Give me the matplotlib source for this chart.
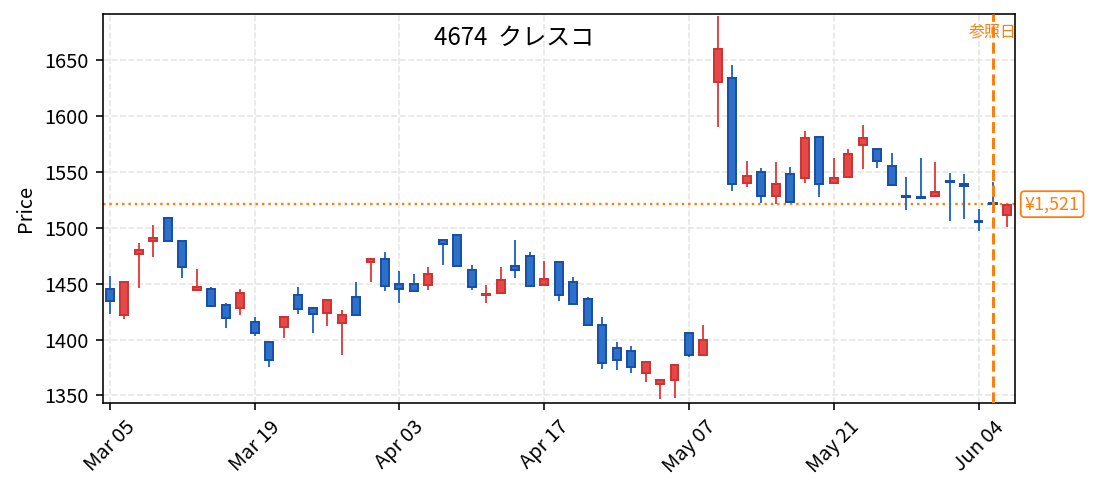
import matplotlib
matplotlib.use("Agg")
import matplotlib.pyplot as plt
import numpy as np

plt.rcParams['font.family'] = ['Noto Sans CJK JP', 'DejaVu Sans']

dates = ["03-05","03-06","03-09","03-10","03-11","03-12","03-13","03-16","03-17","03-18",
         "03-19","03-23","03-24","03-25","03-26","03-27","03-30","03-31",
         "04-01","04-02","04-03","04-06","04-07","04-08","04-09","04-10","04-13","04-14",
         "04-15","04-16","04-17","04-20","04-21","04-22","04-23","04-24","04-27","04-28","04-30",
         "05-01","05-07","05-08","05-11","05-12","05-13","05-14","05-15","05-18","05-19",
         "05-20","05-21","05-22","05-25","05-26","05-27","05-28","05-29",
         "06-01","06-02","06-03","06-04","06-05","06-08"]

opens = [1445,1422,1476,1488,1509,1488,1444,1445,1431,1428,
         1416,1398,1411,1440,1428,1424,1415,1438,1469,1472,
         1450,1450,1449,1489,1493,1462,1440,1442,1466,1475,
         1449,1469,1451,1436,1413,1392,1390,1370,1360,1364,
         1406,1386,1630,1634,1540,1550,1528,1548,1544,1581,
         1540,1545,1574,1570,1555,1528.5,1527.5,1528,1542,1539,
         1506,1522,1511]
highs = [1457,1452,1486,1502,1509,1488,1463,1447,1433,1445,
         1420,1398,1420,1447,1428,1435,1426,1451,1472,1478,
         1461,1459,1465,1489,1493,1467,1449,1465,1489,1478,
         1470,1469,1456,1438,1420,1398,1394,1380,1364,1378,
         1406,1413,1689,1645,1560,1553,1559,1554,1586,1581,
         1562,1570,1592,1570,1567,1545,1562,1559,1549,1548,
         1517,1541,1520]
lows = [1423,1418,1446,1474,1488,1455,1443,1429,1410,1422,
        1403,1375,1401,1423,1406,1412,1386,1422,1451,1443,
        1433,1443,1444,1467,1465,1444,1433,1442,1455,1448,
        1449,1434,1432,1413,1374,1373,1370,1362,1347,1348,
        1384,1386,1590,1533,1536,1522,1521,1523,1540,1527,
        1539,1545,1552,1553,1538,1516,1526,1528,1506,1508,
        1497,1513,1501]
closes = [1434,1451,1480,1491,1488,1465,1447,1430,1419,1442,
          1406,1382,1420,1427,1423,1435,1422,1422,1472,1448,
          1445,1443,1459,1485,1466,1447,1441,1453,1462,1448,
          1454,1440,1432,1413,1379,1382,1375,1380,1364,1377,
          1386,1400,1660,1539,1546,1528,1539,1523,1580,1539,
          1544,1566,1580,1560,1538,1527.5,1526.5,1532,1541,1537,
          1505,1521,1520]

tick_idx = [0, 10, 20, 30, 40, 50, 60]
tick_labels = ["Mar 05", "Mar 19", "Apr 03", "Apr 17", "May 07", "May 21", "Jun 04"]
yticks = [1350, 1400, 1450, 1500, 1550, 1600, 1650]

ref_idx = 61
ref_price = 1521
title = "4674  クレスコ"
ref_label = "参照日"
price_label = "¥1,521"

UP_FACE, UP_EDGE = "#E64848", "#CF3434"
DN_FACE, DN_EDGE = "#2C70C9", "#1A50A6"
ORANGE = "#FF7F0E"

dpi = 144
fig = plt.figure(figsize=(1093 / dpi, 491 / dpi), dpi=dpi)
ax = fig.add_axes([102.7 / 1093, 1 - 402.7 / 491, (1014.7 - 102.7) / 1093, (402.7 - 14) / 491])

x = np.arange(len(opens))
o = np.array(opens, float); c = np.array(closes, float)
h = np.array(highs, float); l = np.array(lows, float)
up = c >= o

ax.vlines(x[up], l[up], h[up], color=UP_FACE, linewidth=1.0, zorder=2)
ax.vlines(x[~up], l[~up], h[~up], color=DN_FACE, linewidth=1.0, zorder=2)
bottoms = np.minimum(o, c)
heights = np.abs(c - o)
ax.bar(x[up], heights[up], bottom=bottoms[up], width=0.55,
       color=UP_FACE, edgecolor=UP_EDGE, linewidth=1.0, zorder=3)
ax.bar(x[~up], heights[~up], bottom=bottoms[~up], width=0.55,
       color=DN_FACE, edgecolor=DN_EDGE, linewidth=1.0, zorder=3)

ax.axhline(ref_price, color=ORANGE, linestyle=":", linewidth=1.2, zorder=1)
ax.axvline(ref_idx, color=ORANGE, linestyle="--", linewidth=1.5, zorder=4)

ax.text(ref_idx, 0.951, ref_label, transform=ax.get_xaxis_transform(),
        ha="center", va="center", fontsize=8, color=ORANGE, clip_on=True, zorder=5)
ax.annotate(price_label, xy=(1.0, ref_price), xycoords=("axes fraction", "data"),
            xytext=(5, 0), textcoords="offset points", ha="left", va="center",
            fontsize=9, color=ORANGE, annotation_clip=False,
            bbox=dict(boxstyle="round,pad=0.22", facecolor="white", edgecolor=ORANGE, linewidth=0.9))

ax.text(0.451, 0.938, title, transform=ax.transAxes, ha="center", va="center", fontsize=12)

ax.set_xlim(-0.5, len(opens) - 0.5)
ax.set_ylim(1343.5, 1691)
ax.set_xticks(tick_idx)
ax.set_xticklabels(tick_labels, rotation=45)
ax.set_yticks(yticks)
ax.set_ylabel("Price")
ax.grid(True, linestyle="--", color="#e2e2e2", linewidth=0.8, alpha=0.9, zorder=0)
ax.set_axisbelow(True)

fig.savefig("out.png", dpi=dpi)
